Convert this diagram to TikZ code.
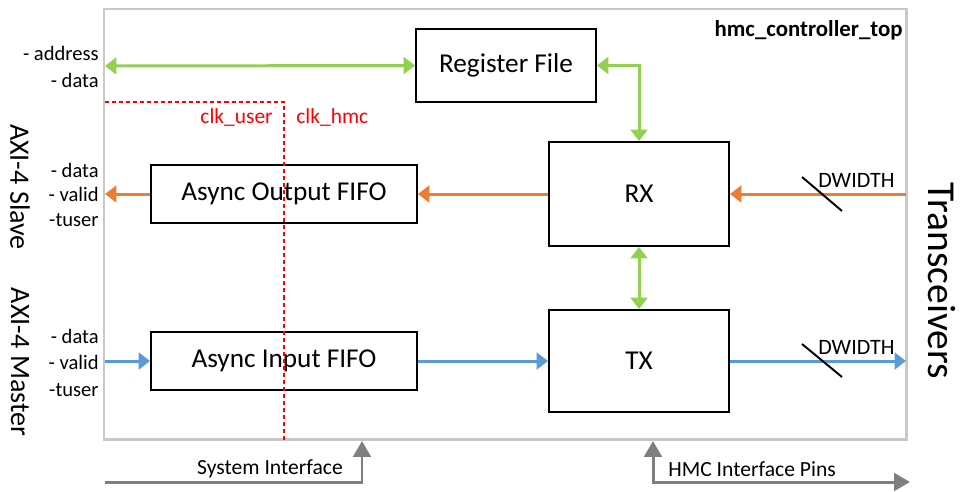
\documentclass[tikz,border=0pt]{standalone}
\usepackage{fontspec}
\setmainfont{Carlito}
\usetikzlibrary{arrows.meta,positioning}

\definecolor{regGreen}{HTML}{92D050}
\definecolor{rxOrange}{HTML}{ED7D31}
\definecolor{txBlue}{HTML}{5B9BD5}
\definecolor{pinGray}{HTML}{7F7F7F}
\definecolor{frameGray}{HTML}{C8C8C8}

\tikzset{
  block/.style={draw=black, line width=1.1pt, fill=white, inner sep=0pt,
    font=\fontsize{15.5}{17}\selectfont},
  sig/.style={anchor=east, inner sep=0pt, font=\fontsize{11.7}{13}\selectfont},
  busG/.style={draw=regGreen, line width=1.7pt, {Triangle[length=6.5pt,width=9.5pt]}-{Triangle[length=6.5pt,width=9.5pt]}},
  busO/.style={draw=rxOrange, line width=1.7pt, -{Triangle[length=6.5pt,width=9.5pt]}},
  busB/.style={draw=txBlue, line width=1.7pt, -{Triangle[length=6.5pt,width=9.5pt]}},
  pins/.style={draw=pinGray, line width=1.7pt},
  clkline/.style={draw=red, line width=1.1pt, dash pattern=on 2.3pt off 1.7pt},
  widthmark/.style={draw=black, line width=1.1pt}
}

\begin{document}
\begin{tikzpicture}[x=0.02cm, y=-0.02cm]
  \useasboundingbox (0,0) rectangle (960,491);

  % frame
  \draw[frameGray, line width=1.7pt] (104,9) rectangle (906,439);
  \node[anchor=east, inner sep=0pt, font=\fontsize{13}{15}\selectfont\bfseries] (top) at (903,30) {hmc\_controller\_top};

  % blocks
  \node[block, minimum width=3.6cm, minimum height=1.46cm] (rf) at (506,65.5) {Register File};
  \node[block, minimum width=3.6cm, minimum height=2.08cm] (rx) at (639,194) {RX};
  \node[block, minimum width=3.6cm, minimum height=2.04cm] (tx) at (639,361) {TX};
  \node[block, minimum width=5.32cm, minimum height=1.16cm] (aof) at (284,194) {Async Output FIFO};
  \node[block, minimum width=5.32cm, minimum height=1.16cm] (aif) at (284,361) {Async Input FIFO};

  % outer ends
  \coordinate (regL) at (105,66);
  \coordinate (slvL) at (105,194);
  \coordinate (mstL) at (105,361);
  \coordinate (rxR) at (906,194);
  \coordinate (txR) at (906,361);

  % register bus
  \draw[busG] (regL) -- (rf.west);
  \draw[busG] (rf.east) -| (rx.north);
  \draw[busG] (rx.south) -- (tx.north);

  % receive path
  \draw[busO] (rxR) -- (rx.east);
  \draw[busO] (rx.west) -- (aof.east);
  \draw[busO] (aof.west) -- (slvL);

  % transmit path
  \draw[busB] (mstL) -- (aif.west);
  \draw[busB] (aif.east) -- (tx.west);
  \draw[busB] (tx.east) -- (txR);

  % bus width marks
  \draw[widthmark] (802,177) -- (842,211);
  \draw[widthmark] (802,344) -- (842,377);
  \node[anchor=west, inner sep=0pt, font=\fontsize{12.5}{14}\selectfont] (dwRx) at (818,180) {DWIDTH};
  \node[anchor=west, inner sep=0pt, font=\fontsize{12.5}{14}\selectfont] (dwTx) at (818,347) {DWIDTH};

  % clock domain border
  \coordinate (clkA) at (105,102);
  \coordinate (clkB) at (284,440);
  \draw[clkline] (clkA) -| (clkB);
  \node[anchor=east, inner sep=0pt, text=red, font=\fontsize{12.2}{14}\selectfont] (cu) at (273,117) {clk\_user};
  \node[anchor=west, inner sep=0pt, text=red, font=\fontsize{12.2}{14}\selectfont] (ch) at (296,117) {clk\_hmc};

  % signal lists
  \node[sig] (s1) at (99,53) {- address};
  \node[sig] (s2) at (99,80) {- data};
  \node[sig] (s3) at (99,170) {- data};
  \node[sig] (s4) at (99,194) {- valid};
  \node[sig] (s5) at (99,220) {-tuser};
  \node[sig] (s6) at (99,336) {- data};
  \node[sig] (s7) at (99,362) {- valid};
  \node[sig] (s8) at (99,390) {-tuser};

  \node[rotate=-90, inner sep=0pt, font=\fontsize{16}{18}\selectfont] (slv) at (20,187) {AXI-4 Slave};
  \node[rotate=-90, inner sep=0pt, font=\fontsize{16}{18}\selectfont] (mst) at (20,362) {AXI-4 Master};
  \node[rotate=-90, inner sep=0pt, font=\fontsize{22.5}{26}\selectfont] (trx) at (942,281) {Transceivers};

  % interfaces below
  \coordinate (sysL) at (105,482);
  \coordinate (sysT) at (362,441);
  \coordinate (hmcT) at (653,441);
  \coordinate (hmcC) at (653,482);
  \coordinate (hmcR) at (910,482);
  \draw[pins, -{Triangle[length=9pt,width=10pt]}] (sysL) -| (sysT);
  \draw[pins, {Triangle[length=9pt,width=10pt]}-{Triangle[length=9pt,width=10pt]}] (hmcT) -- (hmcC) -- (hmcR);
  \node[inner sep=0pt, font=\fontsize{12.3}{14}\selectfont] (sysLbl) at (270,469) {System Interface};
  \node[anchor=west, inner sep=0pt, font=\fontsize{12.3}{14}\selectfont] (hmcLbl) at (668,469) {HMC Interface Pins};
\end{tikzpicture}
\end{document}
